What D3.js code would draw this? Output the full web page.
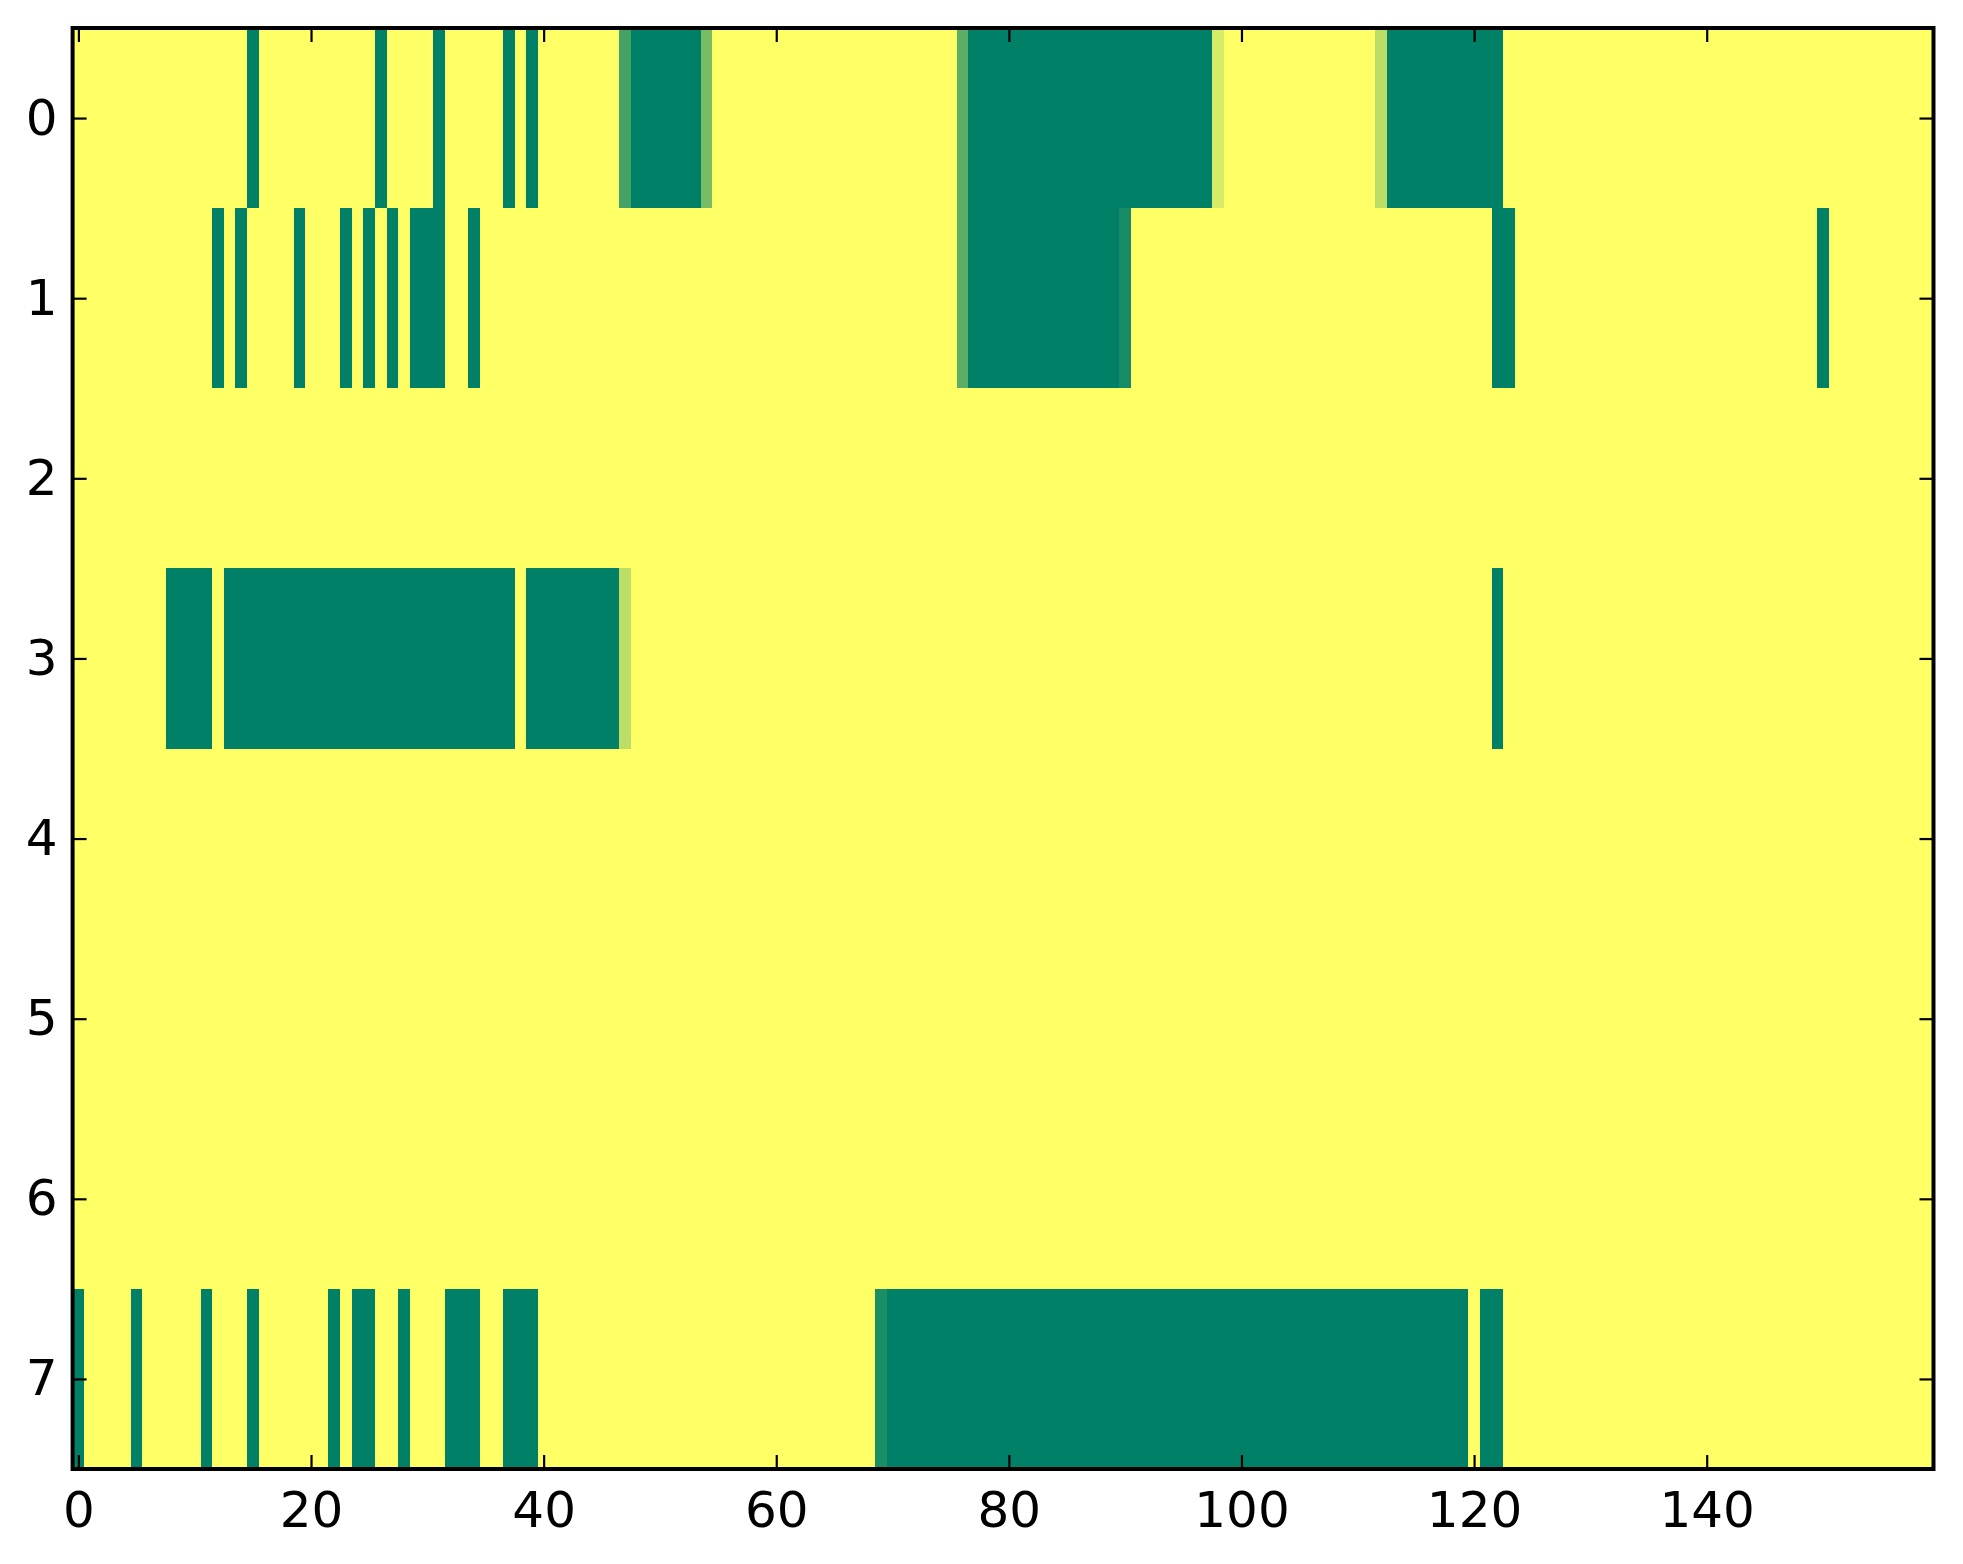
<!DOCTYPE html>
<html>
<head>
<meta charset="utf-8">
<script src="https://cdn.jsdelivr.net/npm/d3@7"></script>
<style>
  body { margin: 0; background: #ffffff; }
  svg { display: block; }
</style>
</head>
<body>
<div id="chart"></div>
<script>
// one array per image row, 160 columns each (0 = green, 1 = yellow)
const row0 = [
  1,1,1,1,1,1,1,1,1,1, 1,1,1,1,1,0,1,1,1,1, 1,1,1,1,1,1,0,1,1,1, 1,0,1,1,1,1,1,0,1,0,
  1,1,1,1,1,1,1,0.27,0,0, 0,0,0,0,0.47,1,1,1,1,1, 1,1,1,1,1,1,1,1,1,1, 1,1,1,1,1,1,0.36,0,0,0,
  0,0,0,0,0,0,0,0,0,0, 0,0,0,0,0,0,0,0,0.84,1, 1,1,1,1,1,1,1,1,1,1, 1,1,0.74,0,0,0,0,0,0,0,
  0,0,0,1,1,1,1,1,1,1, 1,1,1,1,1,1,1,1,1,1, 1,1,1,1,1,1,1,1,1,1, 1,1,1,1,1,1,1,1,1,1
];
const row1 = [
  1,1,1,1,1,1,1,1,1,1, 1,1,0,1,0,1,1,1,1,0, 1,1,1,0,1,0,1,0,1,0, 0,0,1,1,0,1,1,1,1,1,
  1,1,1,1,1,1,1,1,1,1, 1,1,1,1,1,1,1,1,1,1, 1,1,1,1,1,1,1,1,1,1, 1,1,1,1,1,1,0.36,0,0,0,
  0,0,0,0,0,0,0,0,0,0, 0.09,1,1,1,1,1,1,1,1,1, 1,1,1,1,1,1,1,1,1,1, 1,1,1,1,1,1,1,1,1,1,
  1,1,0,0,1,1,1,1,1,1, 1,1,1,1,1,1,1,1,1,1, 1,1,1,1,1,1,1,1,1,1, 0,1,1,1,1,1,1,1,1,1
];
const row2 = [
  1,1,1,1,1,1,1,1,1,1, 1,1,1,1,1,1,1,1,1,1, 1,1,1,1,1,1,1,1,1,1, 1,1,1,1,1,1,1,1,1,1,
  1,1,1,1,1,1,1,1,1,1, 1,1,1,1,1,1,1,1,1,1, 1,1,1,1,1,1,1,1,1,1, 1,1,1,1,1,1,1,1,1,1,
  1,1,1,1,1,1,1,1,1,1, 1,1,1,1,1,1,1,1,1,1, 1,1,1,1,1,1,1,1,1,1, 1,1,1,1,1,1,1,1,1,1,
  1,1,1,1,1,1,1,1,1,1, 1,1,1,1,1,1,1,1,1,1, 1,1,1,1,1,1,1,1,1,1, 1,1,1,1,1,1,1,1,1,1
];
const row3 = [
  1,1,1,1,1,1,1,1,0,0, 0,0,1,0,0,0,0,0,0,0, 0,0,0,0,0,0,0,0,0,0, 0,0,0,0,0,0,0,0,1,0,
  0,0,0,0,0,0,0,0.74,1,1, 1,1,1,1,1,1,1,1,1,1, 1,1,1,1,1,1,1,1,1,1, 1,1,1,1,1,1,1,1,1,1,
  1,1,1,1,1,1,1,1,1,1, 1,1,1,1,1,1,1,1,1,1, 1,1,1,1,1,1,1,1,1,1, 1,1,1,1,1,1,1,1,1,1,
  1,1,0,1,1,1,1,1,1,1, 1,1,1,1,1,1,1,1,1,1, 1,1,1,1,1,1,1,1,1,1, 1,1,1,1,1,1,1,1,1,1
];
const row4 = row2.slice();
const row5 = row2.slice();
const row6 = row2.slice();
const row7 = [
  0,1,1,1,1,0,1,1,1,1, 1,0,1,1,1,0,1,1,1,1, 1,1,0,1,0,0,1,1,0,1, 1,1,0,0,0,1,1,0,0,0,
  1,1,1,1,1,1,1,1,1,1, 1,1,1,1,1,1,1,1,1,1, 1,1,1,1,1,1,1,1,1,0.11, 0,0,0,0,0,0,0,0,0,0,
  0,0,0,0,0,0,0,0,0,0, 0,0,0,0,0,0,0,0,0,0, 0,0,0,0,0,0,0,0,0,0, 0,0,0,0,0,0,0,0,0,0,
  1,0,0,1,1,1,1,1,1,1, 1,1,1,1,1,1,1,1,1,1, 1,1,1,1,1,1,1,1,1,1, 1,1,1,1,1,1,1,1,1,1
];
const rows = [row0, row1, row2, row3, row4, row5, row6, row7];
const xTicks = [0, 20, 40, 60, 80, 100, 120, 140];
const yTicks = [0, 1, 2, 3, 4, 5, 6, 7];

const width = 1963;
const height = 1564;
const margin = { top: 28, right: 29.5, bottom: 95, left: 72.6 };

const svg = d3.select("#chart")
  .append("svg")
  .attr("width", width)
  .attr("height", height);

const x = d3.scaleLinear()
  .domain([-0.5, rows[0].length - 0.5])
  .range([margin.left, width - margin.right]);
const y = d3.scaleLinear()
  .domain([-0.5, rows.length - 0.5])
  .range([margin.top, height - margin.bottom]);

// matplotlib "summer" colormap
const color = d3.scaleLinear()
  .domain([0, 1])
  .range(["rgb(0,128,102)", "rgb(255,255,102)"]);

const cells = [];
rows.forEach((r, i) => r.forEach((v, j) => cells.push({ row: i, col: j, v })));

svg.append("g")
  .attr("shape-rendering", "crispEdges")
  .selectAll("rect")
  .data(cells)
  .enter().append("rect")
  .attr("x", d => x(d.col - 0.5))
  .attr("y", d => y(d.row - 0.5))
  .attr("width", d => x(d.col + 0.5) - x(d.col - 0.5) + 0.5)
  .attr("height", d => y(d.row + 0.5) - y(d.row - 0.5) + 0.5)
  .attr("fill", d => color(d.v));

const tickLen = 14;
const plotBottom = height - margin.bottom;
const plotRight = width - margin.right;

function styleAxis(g) {
  g.select(".domain").remove();
  g.selectAll(".tick line").attr("stroke", "#000").attr("stroke-width", 2.2);
}

svg.append("g")
  .attr("transform", `translate(0,${plotBottom})`)
  .call(d3.axisBottom(x).tickValues(xTicks).tickSize(-tickLen).tickPadding(22))
  .call(styleAxis);
svg.append("g")
  .attr("transform", `translate(0,${margin.top})`)
  .call(d3.axisTop(x).tickValues(xTicks).tickSize(-tickLen).tickFormat(""))
  .call(styleAxis);
svg.append("g")
  .attr("transform", `translate(${margin.left},0)`)
  .call(d3.axisLeft(y).tickValues(yTicks).tickSize(-tickLen).tickPadding(15))
  .call(styleAxis);
svg.append("g")
  .attr("transform", `translate(${plotRight},0)`)
  .call(d3.axisRight(y).tickValues(yTicks).tickSize(-tickLen).tickFormat(""))
  .call(styleAxis);

svg.selectAll(".tick text")
  .attr("font-family", "DejaVu Sans")
  .attr("font-size", 50)
  .attr("fill", "#000");

// frame
svg.append("rect")
  .attr("x", margin.left)
  .attr("y", margin.top)
  .attr("width", plotRight - margin.left)
  .attr("height", plotBottom - margin.top)
  .attr("fill", "none")
  .attr("stroke", "#000")
  .attr("stroke-width", 4);
</script>
</body>
</html>
